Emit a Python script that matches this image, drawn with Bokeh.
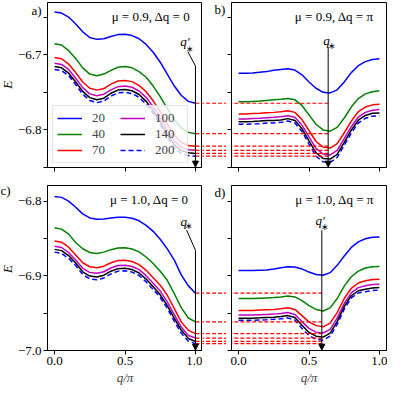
from math import pi
from bokeh.plotting import figure
from bokeh.layouts import row, column
from bokeh.models import Range1d, FixedTicker, Label, Legend, LegendItem, Arrow, NormalHead
from bokeh.embed import file_html
from bokeh.resources import INLINE

# ---------------- data ----------------
q = [0.0, 0.05, 0.1, 0.15, 0.2, 0.25, 0.3, 0.35, 0.4, 0.45, 0.5,
     0.55, 0.6, 0.65, 0.7, 0.75, 0.8, 0.85, 0.9, 0.95, 1.0]
sizes = ["20", "40", "70", "100", "140", "200"]

# a) mu = 0.9, dq = 0
a_20 = [-6.6433, -6.6446, -6.6500, -6.6592, -6.6696, -6.6771, -6.6796, -6.6788, -6.6758, -6.6733, -6.6729,
        -6.6746, -6.6788, -6.6863, -6.6967, -6.7100, -6.7258, -6.7417, -6.7542, -6.7621, -6.7646]
a_40 = [-6.6854, -6.6871, -6.6946, -6.7050, -6.7175, -6.7258, -6.7279, -6.7258, -6.7208, -6.7167, -6.7158,
        -6.7175, -6.7225, -6.7300, -6.7417, -6.7558, -6.7717, -6.7863, -6.7975, -6.8033, -6.8050]
a_70 = [-6.7038, -6.7054, -6.7125, -6.7238, -6.7363, -6.7446, -6.7471, -6.7450, -6.7392, -6.7350, -6.7342,
        -6.7358, -6.7408, -6.7492, -6.7613, -6.7758, -6.7925, -6.8071, -6.8167, -6.8208, -6.8217]
a_100 = [-6.7113, -6.7129, -6.7196, -6.7313, -6.7438, -6.7521, -6.7546, -6.7525, -6.7467, -6.7425, -6.7417,
         -6.7433, -6.7483, -6.7567, -6.7692, -6.7838, -6.8004, -6.8146, -6.8229, -6.8263, -6.8271]
a_140 = [-6.7158, -6.7175, -6.7246, -6.7363, -6.7488, -6.7571, -6.7600, -6.7579, -6.7513, -6.7471, -6.7463,
         -6.7479, -6.7529, -6.7621, -6.7742, -6.7892, -6.8058, -6.8200, -6.8275, -6.8304, -6.8313]
a_200 = [-6.7196, -6.7213, -6.7279, -6.7400, -6.7525, -6.7608, -6.7638, -6.7617, -6.7550, -6.7508, -6.7500,
         -6.7517, -6.7567, -6.7658, -6.7779, -6.7929, -6.8096, -6.8238, -6.8313, -6.8342, -6.8350]

# b) mu = 0.9, dq = pi
b_20 = [-6.7246, -6.7246, -6.7242, -6.7233, -6.7225, -6.7208, -6.7196, -6.7188, -6.7204, -6.7267, -6.7363,
        -6.7446, -6.7500, -6.7508, -6.7467, -6.7363, -6.7238, -6.7146, -6.7092, -6.7063, -6.7054]
b_40 = [-6.7625, -6.7625, -6.7621, -6.7617, -6.7608, -6.7600, -6.7592, -6.7583, -6.7600, -6.7675, -6.7800,
        -6.7925, -6.8000, -6.8017, -6.7967, -6.7842, -6.7696, -6.7583, -6.7521, -6.7492, -6.7479]
b_70 = [-6.7788, -6.7788, -6.7783, -6.7779, -6.7771, -6.7767, -6.7758, -6.7746, -6.7767, -6.7863, -6.8008,
        -6.8154, -6.8229, -6.8242, -6.8183, -6.8038, -6.7883, -6.7758, -6.7696, -6.7667, -6.7658]
b_100 = [-6.7854, -6.7854, -6.7850, -6.7846, -6.7838, -6.7833, -6.7825, -6.7813, -6.7833, -6.7938, -6.8092,
         -6.8246, -6.8321, -6.8333, -6.8271, -6.8117, -6.7958, -6.7829, -6.7767, -6.7738, -6.7729]
b_140 = [-6.7892, -6.7892, -6.7888, -6.7883, -6.7875, -6.7875, -6.7867, -6.7850, -6.7875, -6.7983, -6.8146,
         -6.8304, -6.8379, -6.8388, -6.8325, -6.8167, -6.8004, -6.7871, -6.7808, -6.7779, -6.7775]
b_200 = [-6.7925, -6.7925, -6.7921, -6.7917, -6.7908, -6.7908, -6.7900, -6.7883, -6.7908, -6.8021, -6.8188,
         -6.8350, -6.8425, -6.8433, -6.8367, -6.8204, -6.8042, -6.7908, -6.7846, -6.7817, -6.7813]

# c) mu = 1.0, dq = 0
c_20 = [-6.7938, -6.7950, -6.8000, -6.8083, -6.8171, -6.8225, -6.8242, -6.8238, -6.8225, -6.8217, -6.8217,
        -6.8229, -6.8263, -6.8325, -6.8405, -6.8510, -6.8640, -6.8790, -6.8990, -6.9135, -6.9233]
c_40 = [-6.8358, -6.8375, -6.8442, -6.8554, -6.8638, -6.8688, -6.8700, -6.8683, -6.8650, -6.8629, -6.8625,
        -6.8642, -6.8679, -6.8748, -6.8835, -6.8940, -6.9060, -6.9240, -6.9430, -6.9565, -6.9617]
c_70 = [-6.8533, -6.8550, -6.8617, -6.8721, -6.8825, -6.8879, -6.8892, -6.8871, -6.8825, -6.8796, -6.8792,
        -6.8808, -6.8850, -6.8927, -6.9025, -6.9125, -6.9260, -6.9440, -6.9620, -6.9730, -6.9775]
c_100 = [-6.8604, -6.8621, -6.8688, -6.8788, -6.8900, -6.8954, -6.8967, -6.8946, -6.8896, -6.8863, -6.8858,
         -6.8875, -6.8917, -6.8998, -6.9100, -6.9205, -6.9350, -6.9520, -6.9690, -6.9800, -6.9833]
c_140 = [-6.8646, -6.8663, -6.8729, -6.8829, -6.8946, -6.9004, -6.9017, -6.8992, -6.8938, -6.8904, -6.8900,
         -6.8917, -6.8963, -6.9044, -6.9146, -6.9255, -6.9400, -6.9570, -6.9730, -6.9840, -6.9879]
c_200 = [-6.8683, -6.8700, -6.8767, -6.8863, -6.8983, -6.9042, -6.9054, -6.9029, -6.8975, -6.8938, -6.8933,
         -6.8950, -6.8996, -6.9081, -6.9184, -6.9290, -6.9435, -6.9610, -6.9770, -6.9875, -6.9908]

# d) mu = 1.0, dq = pi
d_20 = [-6.8929, -6.8929, -6.8929, -6.8925, -6.8921, -6.8908, -6.8892, -6.8879, -6.8883, -6.8908, -6.8950,
        -6.8983, -6.8992, -6.8958, -6.8860, -6.8735, -6.8620, -6.8546, -6.8504, -6.8483, -6.8479]
d_40 = [-6.9304, -6.9304, -6.9304, -6.9300, -6.9296, -6.9292, -6.9283, -6.9271, -6.9283, -6.9333, -6.9400,
        -6.9450, -6.9471, -6.9429, -6.9304, -6.9138, -6.9013, -6.8938, -6.8896, -6.8879, -6.8875]
d_70 = [-6.9463, -6.9463, -6.9463, -6.9458, -6.9454, -6.9450, -6.9442, -6.9429, -6.9450, -6.9533, -6.9617,
        -6.9667, -6.9683, -6.9633, -6.9492, -6.9304, -6.9167, -6.9096, -6.9067, -6.9050, -6.9046]
d_100 = [-6.9525, -6.9525, -6.9525, -6.9521, -6.9517, -6.9513, -6.9504, -6.9492, -6.9517, -6.9613, -6.9704,
         -6.9754, -6.9767, -6.9717, -6.9567, -6.9371, -6.9229, -6.9158, -6.9133, -6.9117, -6.9113]
d_140 = [-6.9567, -6.9567, -6.9567, -6.9563, -6.9558, -6.9554, -6.9546, -6.9533, -6.9558, -6.9663, -6.9758,
         -6.9808, -6.9821, -6.9767, -6.9613, -6.9413, -6.9267, -6.9200, -6.9179, -6.9163, -6.9158]
d_200 = [-6.9596, -6.9596, -6.9596, -6.9592, -6.9588, -6.9583, -6.9575, -6.9563, -6.9592, -6.9704, -6.9800,
         -6.9850, -6.9863, -6.9808, -6.9650, -6.9446, -6.9296, -6.9229, -6.9213, -6.9196, -6.9192]

q_star_b = 0.636   # position of q_* in panel b
q_star_d = 0.591   # position of q'_* in panel d

x_ticks = [0.0, 0.5, 1.0]
x_tick_labels = {0.0: "0.0", 0.5: "0.5", 1.0: "1.0"}
top_y_labeled = [-6.8, -6.7]
top_y_marks = [-6.85, -6.8, -6.75, -6.7, -6.65]
bot_y_labeled = [-7.0, -6.9, -6.8]
bot_y_marks = [-7.0, -6.95, -6.9, -6.85, -6.8]

titles = ["μ = 0.9,  Δq = 0", "μ = 0.9,  Δq = π", "μ = 1.0,  Δq = 0", "μ = 1.0,  Δq = π"]

# ---------------- style / layout ----------------
FONT = "Liberation Serif"
FS = "13px"
FW, FH = 155, 165
BW = 24          # gap strip between left and right panels
SW = 14          # strip at far left for E and c)
LB = 29          # left border of left panels (tick labels)
COLORS = ["#0000ff", "#008000", "#ff0000", "#bf00bf", "#000000", "#0000ff"]
DASHES = ["solid", "solid", "solid", "solid", "solid", "5 3"]


def style_axis(ax, labeled, marks, overrides):
    # tick marks are drawn as minor ticks; major ticks only carry labels
    ax.ticker = FixedTicker(ticks=labeled, minor_ticks=marks)
    ax.major_tick_out = 3
    ax.major_tick_in = 0
    ax.major_tick_line_color = None
    ax.minor_tick_out = 4
    ax.minor_tick_in = 0
    ax.minor_tick_line_color = "black"
    ax.axis_line_color = "black"
    ax.major_label_text_font = FONT
    ax.major_label_text_font_size = FS
    ax.major_label_text_color = "black"
    ax.major_label_standoff = 2
    ax.major_label_overrides = overrides


def panel(yr, y_labeled, y_marks, y_over, x_labeled, left, bottom, right=0):
    p = figure(x_range=Range1d(-0.05, 1.05), y_range=yr, frame_width=FW, frame_height=FH,
               min_border_left=left, min_border_right=right, min_border_top=2,
               min_border_bottom=bottom, toolbar_location=None, output_backend="svg")
    p.grid.visible = False
    p.outline_line_color = "black"
    p.outline_line_alpha = 1
    p.outline_line_width = 1
    style_axis(p.xaxis[0], x_labeled, x_ticks, x_tick_labels if x_labeled else {})
    style_axis(p.yaxis[0], y_labeled, y_marks, y_over)
    return p


def strip(yr, width, bottom):
    b = figure(x_range=Range1d(0, 1), y_range=yr, frame_width=width, frame_height=FH,
               min_border_left=0, min_border_right=0, min_border_top=2, min_border_bottom=bottom,
               x_axis_location=None, y_axis_location=None,
               toolbar_location=None, output_backend="svg")
    b.grid.visible = False
    b.outline_line_color = None
    return b


def curves(p, series):
    return [p.line(q, s, line_color=c, line_width=1.5, line_dash=d)
            for s, c, d in zip(series, COLORS, DASHES)]


def lab(p, x, y, text, size=FS, style="normal", align="left", angle=0.0):
    p.add_layout(Label(x=x, y=y, text=text, text_font=FONT, text_font_size=size,
                       text_font_style=style, text_align=align, text_baseline="middle",
                       angle=angle, text_color="black"))


def connectors(p, ends, x0, x1):
    p.segment(x0=x0, y0=ends, x1=x1, y1=ends, line_color="red", line_width=1.2, line_dash="4 2")


def arrow(p, x, y0, y1):
    p.add_layout(Arrow(end=NormalHead(size=6, fill_color="black", line_color="black", line_width=1),
                       x_start=x, y_start=y0, x_end=x, y_end=y1,
                       line_color="black", line_width=1))


def minus(v):
    return "−%.1f" % abs(v)


yr_top = Range1d(-6.85, -6.6306)
yr_bot = Range1d(-7.0, -6.7791)

a_letter_y = -6.6413
top_over = {v: minus(v) for v in top_y_labeled}
top_over[a_letter_y] = "a)"
bot_over = {v: minus(v) for v in bot_y_labeled}

sa = strip(yr_top, SW, 16)
pa = panel(yr_top, top_y_labeled + [a_letter_y], top_y_marks, top_over, [], LB, 16)
ba = strip(yr_top, BW, 16)
pb = panel(yr_top, [], top_y_marks, {}, [], 5, 16, right=1)
sc = strip(yr_bot, SW, 40)
pc = panel(yr_bot, bot_y_labeled, bot_y_marks, bot_over, x_ticks, LB, 40)
bc = strip(yr_bot, BW, 40)
pd = panel(yr_bot, [], bot_y_marks, {}, x_ticks, 5, 40, right=1)

for p in (pc, pd):
    p.xaxis.axis_label = "q/π"
    p.xaxis.axis_label_text_font = FONT
    p.xaxis.axis_label_text_font_size = FS
    p.xaxis.axis_label_text_font_style = "italic"
    p.xaxis.axis_label_standoff = 2

ser_a = [a_20, a_40, a_70, a_100, a_140, a_200]
ser_b = [b_20, b_40, b_70, b_100, b_140, b_200]
ser_c = [c_20, c_40, c_70, c_100, c_140, c_200]
ser_d = [d_20, d_40, d_70, d_100, d_140, d_200]

ra = curves(pa, ser_a)
curves(pb, ser_b)
curves(pc, ser_c)
curves(pd, ser_d)

ends_a = [s[-1] for s in ser_a]
ends_c = [s[-1] for s in ser_c]
connectors(pa, ends_a, 1.0, 1.2)
connectors(ba, ends_a, -0.1, 1.1)
connectors(pb, ends_a, -0.2, q_star_b)
connectors(pc, ends_c, 1.0, 1.2)
connectors(bc, ends_c, -0.1, 1.1)
connectors(pd, ends_c, -0.2, q_star_d)

# q_* annotations
lab(pa, 0.926, -6.6825, "q′", style="italic", align="center")
lab(pa, 0.962, -6.6925, "∗", size="9px", align="center")
pa.line([0.946, 1.0], [-6.696, -6.715], line_color="black", line_width=1)
arrow(pa, 1.0, -6.715, -6.8495)

lab(pb, q_star_b - 0.012, -6.681, "q", style="italic", align="center")
lab(pb, q_star_b + 0.026, -6.689, "∗", size="9px", align="center")
arrow(pb, q_star_b, -6.6905, -6.8495)

lab(pc, 0.917, -6.8275, "q", style="italic", align="center")
lab(pc, 0.955, -6.8335, "∗", size="9px", align="center")
pc.line([0.937, 1.0], [-6.8388, -6.8658], line_color="black", line_width=1)
arrow(pc, 1.0, -6.8658, -6.9995)

lab(pd, q_star_d - 0.012, -6.8266, "q′", style="italic", align="center")
lab(pd, q_star_d + 0.02, -6.834, "∗", size="9px", align="center")
arrow(pd, q_star_d, -6.839, -6.9995)

# parameter texts
lab(pa, 0.987, -6.6488, titles[0], align="right")
lab(pb, 0.982, -6.6488, titles[1], align="right")
lab(pc, 0.975, -6.7985, titles[2], align="right")
lab(pd, 0.985, -6.7985, titles[3], align="right")

# panel letters (a) is carried by the y axis of panel a)
lab(ba, 0.95, -6.6394, "b)", align="right")
lab(sc, 0.0, -6.786, "c)", align="left")
lab(bc, 0.95, -6.7879, "d)", align="right")

# y-axis labels
lab(sa, 0.5, -6.74, "E", style="italic", align="center", angle=pi / 2)
lab(sc, 0.5, -6.891, "E", style="italic", align="center", angle=pi / 2)

# legend
leg = Legend(items=[LegendItem(label=s, renderers=[r]) for s, r in zip(sizes, ra)],
             location=(5, 4), orientation="vertical", nrows=3,
             glyph_width=25, glyph_height=16, label_height=16, label_width=28,
             label_standoff=10, spacing=0, padding=4, margin=0,
             label_text_font=FONT, label_text_font_size=FS,
             border_line_color="#cccccc", border_line_width=1,
             background_fill_color="white", background_fill_alpha=0.8)
pa.add_layout(leg)

layout = column(row(sa, pa, ba, pb), row(sc, pc, bc, pd))

with open("out.html", "w") as f:
    f.write(file_html(layout, INLINE))
